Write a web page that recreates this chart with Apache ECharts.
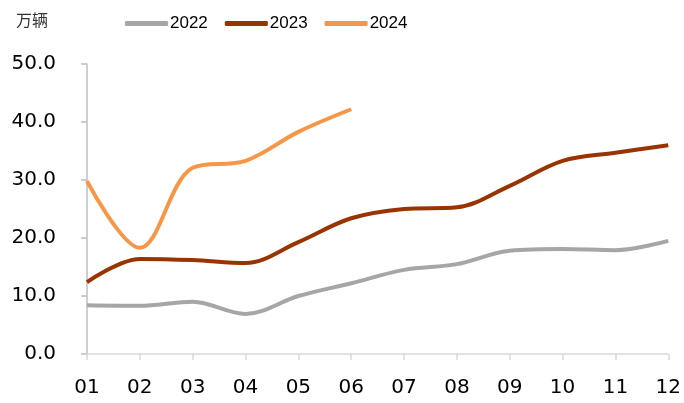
<!DOCTYPE html>
<html>
<head>
<meta charset="utf-8">
<script src="https://cdn.jsdelivr.net/npm/echarts@6/dist/echarts.min.js"></script>
<style>
  html, body { margin: 0; padding: 0; background: #fff; }
  #chart { width: 684px; height: 403px; }
</style>
</head>
<body>
<div id="chart"></div>
<script>
// 月份
const months = ['01', '02', '03', '04', '05', '06', '07', '08', '09', '10', '11', '12']
// 万辆
const data2022 = [8.4, 8.3, 9.0, 6.9, 10.0, 12.2, 14.5, 15.5, 17.8, 18.1, 17.9, 19.5]
const data2023 = [12.4, 16.4, 16.2, 15.7, 19.3, 23.4, 25.0, 25.3, 29.0, 33.3, 34.7, 36.0]
const data2024 = [29.8, 18.3, 32.1, 33.3, 38.3, 42.2]

const font = 'DejaVu Sans, Liberation Sans, sans-serif'
const chart = echarts.init(document.getElementById('chart'))

const line = (name, data, color) => ({
  name: name,
  type: 'line',
  data: data,
  smooth: 0.35,
  symbol: 'none',
  lineStyle: { color: color, width: 4 },
  itemStyle: { color: color }
})

chart.setOption({
  animation: false,
  backgroundColor: '#fff',
  textStyle: { fontFamily: font },
  title: {
    text: '万辆',
    left: 11,
    top: 7,
    textStyle: { fontSize: 16, fontWeight: 'normal', color: '#333', fontFamily: 'Noto Sans CJK SC' }
  },
  legend: {
    top: 10,
    left: 120,
    itemWidth: 43,
    itemHeight: 5,
    itemGap: 17,
    icon: 'roundRect',
    textStyle: { fontSize: 17, color: '#000', fontFamily: 'Liberation Sans, sans-serif', padding: [0, 0, 0, -3] },
    data: ['2022', '2023', '2024']
  },
  grid: { left: 87, right: 14, top: 64, bottom: 49 },
  xAxis: {
    type: 'category',
    data: months,
    boundaryGap: false,
    axisLine: { lineStyle: { color: '#d9d9d9', width: 1.5 } },
    axisTick: { show: true, length: 6, lineStyle: { color: '#d9d9d9', width: 1.5 } },
    axisLabel: { color: '#000', fontSize: 20, margin: 24 }
  },
  yAxis: {
    type: 'value',
    min: 0,
    max: 50,
    interval: 10,
    splitLine: { show: false },
    axisLine: { show: true, lineStyle: { color: '#bfbfbf', width: 1.5 } },
    axisTick: { show: true, length: 6, lineStyle: { color: '#bfbfbf', width: 1.5 } },
    axisLabel: { color: '#000', fontSize: 20, margin: 31, formatter: v => v.toFixed(1) }
  },
  series: [
    line('2022', data2022, '#a6a6a6'),
    line('2023', data2023, '#993300'),
    line('2024', data2024, '#f79646')
  ]
})
</script>
</body>
</html>
